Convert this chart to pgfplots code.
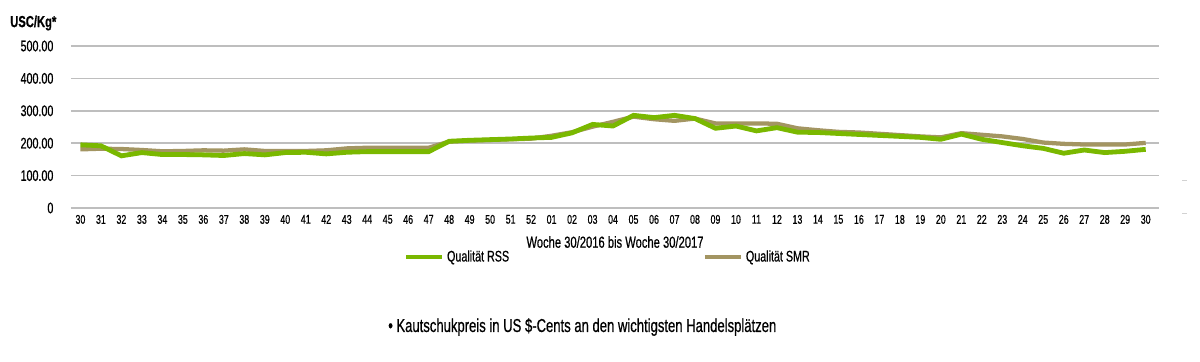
\documentclass[border=0pt]{standalone}
\usepackage{pgfplots}
\pgfplotsset{compat=1.18}
\usepackage{fontspec}
\setmainfont{Liberation Sans}[FakeStretch=0.7, FakeBold=0.6, BoldFont={Liberation Sans Bold}, BoldFeatures={FakeStretch=0.7}]
\definecolor{rss}{RGB}{122,184,0}
\definecolor{smr}{RGB}{163,149,98}
\definecolor{gridc}{RGB}{190,190,190}
\begin{document}
\begin{tikzpicture}
\useasboundingbox (0,0) rectangle (900pt,270.75pt);
\begin{axis}[
  at={(53.25pt,114.75pt)}, anchor=south west,
  scale only axis,
  width=816pt, height=121.5pt,
  xmin=-0.46, xmax=52.65,
  ymin=0, ymax=500,
  axis line style={draw=none},
  ytick={0,100,200,300,400,500},
  yticklabels={0,100.00,200.00,300.00,400.00,500.00},
  yticklabel style={font=\fontsize{11.5}{13}\selectfont, anchor=east, inner sep=0pt, xshift=-13pt},
  xtick={0,...,52},
  xticklabels={30,31,32,33,34,35,36,37,38,39,40,41,42,43,44,45,46,47,48,49,50,51,52,01,02,03,04,05,06,07,08,09,10,11,12,13,14,15,16,17,18,19,20,21,22,23,24,25,26,27,28,29,30},
  xticklabel style={font=\fontsize{9.5}{11}\selectfont, anchor=north, inner sep=0pt, yshift=-5pt},
  major tick length=0pt,
  ymajorgrids, grid style={gridc, line width=1.3pt},
  xlabel={Woche 30/2016 bis Woche 30/2017},
  xlabel style={font=\fontsize{12}{14}\selectfont, at={(rel axis cs:0.5,-0.21)}, anchor=center, inner sep=0pt},
  legend columns=2,
  legend style={at={(rel axis cs:0.3055,-0.302)}, anchor=west, draw=none, fill=none, inner sep=0pt,
    font=\fontsize{11.5}{13}\selectfont,
    nodes={inner xsep=2pt, inner ysep=0pt},
    /tikz/every even column/.append style={column sep=143pt}},
  legend image code/.code={\draw[#1] (0pt,0pt) -- (27pt,0pt);},
  legend cell align=left,
]
\addlegendimage{rss, line width=3.6pt}
\addlegendentry{Qualität RSS}
\addlegendimage{smr, line width=3.6pt}
\addlegendentry{Qualität SMR}
\addplot[smr, line width=3.2pt, forget plot] coordinates {
(0,181)(1,183)(2,182)(3,179)(4,175)(5,176)(6,178)(7,177)(8,181)(9,176)
(10,176)(11,176)(12,178)(13,184)(14,186)(15,186)(16,186)(17,186)(18,205)(19,208)
(20,210)(21,212)(22,214)(23,223)(24,234)(25,251)(26,266)(27,282)(28,274)(29,269)
(30,276)(31,261)(32,261)(33,261)(34,260)(35,246)(36,240)(37,235)(38,233)(39,229)
(40,225)(41,221)(42,218)(43,231)(44,226)(45,221)(46,213)(47,202)(48,198)(49,196)
(50,196)(51,196)(52,201)};
\addplot[rss, line width=3.6pt, forget plot] coordinates {
(0,195)(1,192)(2,161)(3,171)(4,165)(5,165)(6,164)(7,162)(8,168)(9,164)
(10,171)(11,172)(12,167)(13,172)(14,174)(15,174)(16,174)(17,174)(18,206)(19,209)
(20,211)(21,213)(22,216)(23,218)(24,232)(25,258)(26,253)(27,286)(28,279)(29,286)
(30,276)(31,246)(32,253)(33,238)(34,248)(35,234)(36,233)(37,230)(38,227)(39,224)
(40,221)(41,218)(42,212)(43,228)(44,212)(45,202)(46,192)(47,184)(48,169)(49,179)
(50,171)(51,175)(52,181)};
\end{axis}
\node[anchor=west, inner sep=0pt, font=\fontsize{12}{14}\selectfont\bfseries] at (7.5pt,253.5pt) {USC/Kg*};
\node[anchor=west, inner sep=0pt, font=\fontsize{14}{16}\selectfont] at (291pt,25.5pt) {• Kautschukpreis in US \$-Cents an den wichtigsten Handelsplätzen};
\draw[gridc!70, line width=0.6pt] (886.5pt,135.75pt) -- (890.25pt,135.75pt);
\draw[gridc!70, line width=0.6pt] (886.5pt,111pt) -- (890.25pt,111pt);
\end{tikzpicture}
\end{document}
